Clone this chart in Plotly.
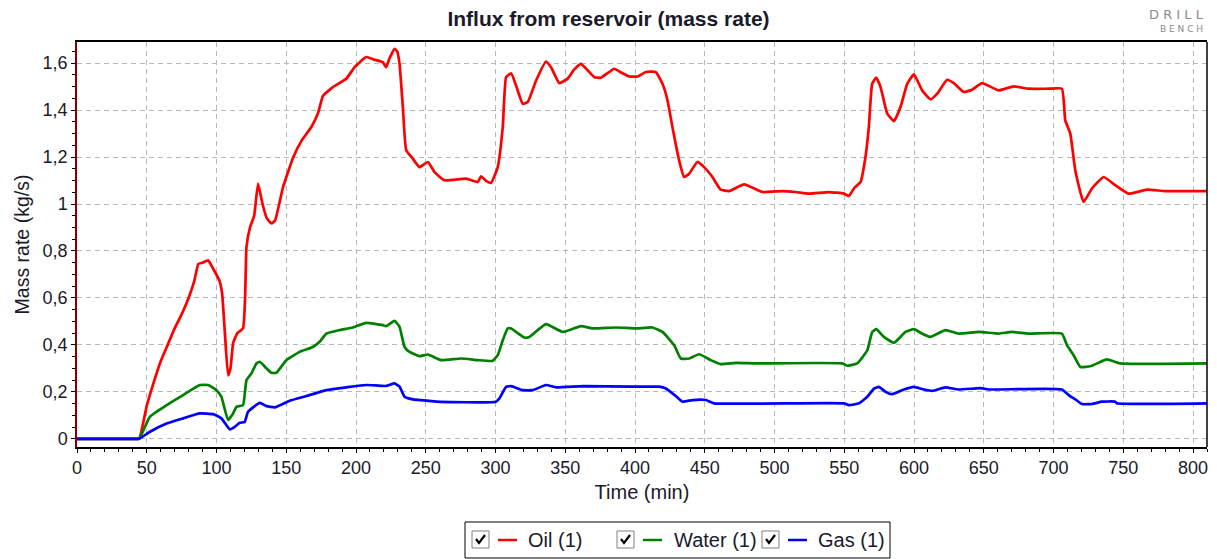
import plotly.graph_objects as go

# ---------------- data ----------------
oil_t = [0, 42, 44.6, 50, 55, 60, 65, 70, 75, 80, 84, 87, 90, 94, 98, 102, 104, 106, 108.3, 110, 112, 115, 119,
         120.5, 121.5, 124, 127, 129.8, 133, 136, 139.4, 142, 147.7, 155.1, 161, 168, 172.7, 176.3, 183.4,
         193, 199, 207.3, 213, 219.2, 221.6, 224, 227.6, 229.5, 231.2, 233.6, 236, 240.7, 245.5, 251.5,
         256.3, 263.4, 279, 287.3, 289.6, 293, 296.8, 301.6, 305.2, 307.6, 311.2, 315, 319.5, 323.1, 329.1,
         336.2, 340, 345.7, 351.7, 356, 361.2, 366, 371, 375.6, 385.1, 390, 395.8, 401.8, 407.8, 414.9,
         419.7, 423.3, 426.8, 431.6, 435.2, 438.8, 444.7, 449.5, 455.5, 461.4, 467.4, 478.2, 491.3, 505.6,
         515.2, 524.7, 539, 549.7, 553.3, 556.9, 561.7, 565.2, 567.6, 570, 572.9, 576, 580.8, 585.6, 590.3,
         595.1, 599.9, 605.8, 611.8, 616.6, 623.7, 628.5, 635.7, 641.6, 648.8, 660.7, 671.4, 682.2, 696.5,
         706, 708.4, 712, 715.6, 721.5, 727.5, 735.9, 744.3, 753.8, 766.9, 780, 810]
oil_v = [0, 0, 0, 0.14, 0.24, 0.33, 0.40, 0.47, 0.53, 0.60, 0.67, 0.745, 0.75, 0.76, 0.72, 0.675, 0.62, 0.45,
         0.27, 0.30, 0.41, 0.45, 0.47, 0.60, 0.817, 0.90, 0.95, 1.087, 1.00, 0.94, 0.917, 0.93, 1.072, 1.20,
         1.27, 1.328, 1.385, 1.46, 1.498, 1.533, 1.583, 1.626, 1.615, 1.604, 1.583, 1.62, 1.661, 1.65,
         1.597, 1.41, 1.229, 1.193, 1.157, 1.179, 1.136, 1.101, 1.108, 1.094, 1.118, 1.10, 1.09, 1.157,
         1.328, 1.54, 1.557, 1.50, 1.427, 1.434, 1.526, 1.607, 1.58, 1.515, 1.534, 1.57, 1.597, 1.57, 1.54,
         1.538, 1.576, 1.56, 1.543, 1.543, 1.562, 1.562, 1.512, 1.441, 1.328, 1.186, 1.115, 1.129, 1.179,
         1.157, 1.115, 1.061, 1.055, 1.084, 1.051, 1.055, 1.051, 1.044, 1.051, 1.044, 1.034, 1.066, 1.094,
         1.20, 1.328, 1.512, 1.538, 1.498, 1.385, 1.353, 1.413, 1.512, 1.552, 1.484, 1.446, 1.47, 1.529,
         1.515, 1.477, 1.487, 1.515, 1.484, 1.501, 1.491, 1.491, 1.491, 1.356, 1.30, 1.143, 1.009, 1.066,
         1.115, 1.08, 1.044, 1.061, 1.055, 1.055]

water_t = [0, 42, 44.6, 52.3, 64.2, 76.1, 88, 94, 100, 103.5, 108.3, 111.9, 114.3, 119, 121.5, 125, 128.6, 131,
           135.8, 139.4, 142.9, 150.1, 159.6, 169.1, 173.9, 178.7, 188.2, 197.7, 207.3, 219.2, 221.6, 227.6,
           231.2, 234.8, 238.4, 245.5, 251.5, 261, 275.3, 287.3, 298, 301.6, 305.2, 308.8, 311.2, 320.7,
           324.3, 336.2, 348.1, 361.2, 369.6, 386.3, 400.6, 412.5, 419.7, 428, 432.8, 438.8, 446, 454.3,
           461.4, 472.2, 486.5, 548.6, 552.1, 559.3, 566.5, 570, 572.9, 578.4, 585.6, 593.9, 599.9, 605.8,
           611.8, 622.5, 632, 646.4, 660.7, 670.2, 682.2, 706, 709.6, 714.4, 719.2, 727, 738.2, 747.8, 810]
water_v = [0, 0, 0, 0.094, 0.143, 0.186, 0.229, 0.229, 0.207, 0.179, 0.08, 0.108, 0.136, 0.143, 0.25, 0.278,
           0.321, 0.328, 0.30, 0.281, 0.281, 0.335, 0.37, 0.391, 0.413, 0.448, 0.463, 0.474, 0.494, 0.484,
           0.48, 0.502, 0.477, 0.391, 0.37, 0.352, 0.359, 0.335, 0.342, 0.335, 0.332, 0.356, 0.42, 0.47, 0.47,
           0.431, 0.434, 0.488, 0.455, 0.48, 0.47, 0.474, 0.47, 0.474, 0.455, 0.399, 0.342, 0.342, 0.36,
           0.335, 0.318, 0.323, 0.321, 0.321, 0.311, 0.321, 0.377, 0.455, 0.467, 0.434, 0.409, 0.455, 0.467,
           0.448, 0.434, 0.463, 0.448, 0.455, 0.448, 0.455, 0.448, 0.448, 0.399, 0.356, 0.306, 0.31, 0.338,
           0.321, 0.321]

gas_t = [0, 42, 44.6, 52.3, 64.2, 76.1, 88, 97.6, 103.5, 109.5, 113.1, 116.7, 120.2, 122.6, 131, 135.8, 141.8,
         152.5, 164.4, 178.7, 193, 207.3, 221.6, 227.6, 231.2, 234.8, 240.7, 245.5, 257.5, 300.2, 302.8,
         307.6, 311.2, 319.5, 326.6, 336.2, 343.4, 362.4, 398.2, 417.3, 422.1, 429.2, 434, 441.2, 450.7,
         456.7, 549.7, 553.3, 560.5, 566.5, 571.3, 574.9, 579.6, 584.4, 592.7, 599.9, 607.1, 613, 622.5, 632,
         647.6, 653.6, 706, 710.8, 715.6, 720.4, 727.5, 734.6, 744.2, 745.3, 810]
gas_v = [0, 0, 0, 0.03, 0.065, 0.087, 0.108, 0.105, 0.087, 0.04, 0.051, 0.068, 0.072, 0.115, 0.153, 0.139,
         0.134, 0.162, 0.182, 0.207, 0.219, 0.229, 0.225, 0.236, 0.222, 0.179, 0.168, 0.165, 0.158, 0.158,
         0.172, 0.221, 0.224, 0.207, 0.207, 0.229, 0.219, 0.224, 0.222, 0.222, 0.214, 0.182, 0.158, 0.165,
         0.165, 0.151, 0.151, 0.143, 0.151, 0.179, 0.214, 0.221, 0.20, 0.19, 0.21, 0.221, 0.21, 0.204, 0.219,
         0.21, 0.216, 0.21, 0.21, 0.186, 0.168, 0.148, 0.148, 0.158, 0.158, 0.151, 0.151]

series_names = ["Oil (1)", "Water (1)", "Gas (1)"]
series_colors = ["#ff0000", "#008000", "#0000ff"]

x_tickvals = [0, 50, 100, 150, 200, 250, 300, 350, 400, 450, 500, 550, 600, 650, 700, 750, 800]
y_tickvals = [0, 0.2, 0.4, 0.6, 0.8, 1.0, 1.2, 1.4, 1.6]
y_ticktext = ["0", "0,2", "0,4", "0,6", "0,8", "1", "1,2", "1,4", "1,6"]

title_text = "Influx from reservoir (mass rate)"
x_title = "Time (min)"
y_title = "Mass rate (kg/s)"
logo_lines = ["D R I L L", "B E N C H"]

# ---------------- figure ----------------
W, H = 1217, 559
ML, MR, MT, MB = 77, 10, 42, 112
PW, PH = W - ML - MR, H - MT - MB
FONT = "Liberation Sans, Arial, sans-serif"
TXT = "#1a1a2a"


def px(xp):
    return (xp - ML) / PW


def py(yp):
    return (H - MB - yp) / PH


fig = go.Figure()
for t, v, name, col in zip([oil_t, water_t, gas_t], [oil_v, water_v, gas_v], series_names, series_colors):
    fig.add_trace(go.Scatter(x=t, y=v, mode="lines", name=name,
                             line=dict(color=col, width=2.7, shape="spline", smoothing=0.4),
                             showlegend=False))

grid = dict(showgrid=True, gridcolor="#b8b8b8", griddash="5px,4px", gridwidth=1)

fig.update_xaxes(range=[0, 810], tickvals=x_tickvals, ticks="outside", ticklen=4, tickcolor="#000",
                 showline=True, linecolor="#000", linewidth=1.5, mirror=True, zeroline=False,
                 automargin=False,
                 minor=dict(dtick=10, ticks="outside", ticklen=3, tickcolor="#000", showgrid=False),
                 tickfont=dict(family=FONT, size=18, color=TXT),
                 title=dict(text=x_title, font=dict(family=FONT, size=20, color=TXT), standoff=8),
                 **grid)
fig.update_yaxes(range=[-0.035, 1.69], tickvals=y_tickvals, ticktext=y_ticktext, ticks="outside",
                 ticklen=4, tickcolor="#000", showline=True, linecolor="#800000", linewidth=1.5,
                 zeroline=False, automargin=False,
                 minor=dict(dtick=0.05, tick0=0, ticks="outside", ticklen=3, tickcolor="#000", showgrid=False),
                 tickfont=dict(family=FONT, size=18, color=TXT),
                 title=dict(text=y_title, font=dict(family=FONT, size=19.5, color=TXT), standoff=8),
                 **grid)

shapes = []
# right frame line (black)
shapes.append(dict(type="line", xref="paper", yref="paper", x0=1, x1=1, y0=0, y1=1,
                   line=dict(color="#000", width=1.5)))

# ---------- legend box (drawn like the reference) ----------
shapes.append(dict(type="rect", xref="paper", yref="paper", x0=px(465), x1=px(890), y0=py(558), y1=py(522),
                   line=dict(color="#000", width=1), fillcolor="#fff"))
annotations = []
items = [(472, 498, 517, 526), (617, 643, 662, 672), (762, 788, 807, 816)]
for (cb, l0, l1, tx), name, col in zip(items, series_names, series_colors):
    # checkbox
    shapes.append(dict(type="rect", xref="paper", yref="paper", x0=px(cb), x1=px(cb + 17),
                       y0=py(548), y1=py(531), line=dict(color="#808080", width=1), fillcolor="#fff"))
    shapes.append(dict(type="path", xref="paper", yref="paper",
                       path=f"M {px(cb+4)},{py(539)} L {px(cb+7)},{py(543)} L {px(cb+13)},{py(535)}",
                       line=dict(color="#000", width=2.2)))
    # line sample
    shapes.append(dict(type="line", xref="paper", yref="paper", x0=px(l0), x1=px(l1), y0=py(540), y1=py(540),
                       line=dict(color=col, width=2.5)))
    annotations.append(dict(text=name, xref="paper", yref="paper", x=px(tx), y=py(540), xanchor="left",
                            yanchor="middle", showarrow=False,
                            font=dict(family=FONT, size=20, color=TXT)))

# ---------- DRILL BENCH logo ----------
annotations.append(dict(text=logo_lines[0], xref="paper", yref="paper", x=px(1206), y=py(14), xanchor="right",
                        yanchor="middle", showarrow=False,
                        font=dict(family="DejaVu Sans, sans-serif", size=13, color="#8c8c8c")))
annotations.append(dict(text=logo_lines[1], xref="paper", yref="paper", x=px(1205), y=py(29), xanchor="right",
                        yanchor="middle", showarrow=False,
                        font=dict(family="DejaVu Sans, sans-serif", size=9, color="#8a8a8a")))

fig.update_layout(
    width=W, height=H, autosize=False,
    margin=dict(l=ML, r=MR, t=MT, b=MB, pad=0, autoexpand=False),
    paper_bgcolor="#fff", plot_bgcolor="#fff",
    title=dict(text=f"<b>{title_text}</b>", x=0.5, xref="container", xanchor="center", y=1 - 19 / H,
               yanchor="middle", font=dict(family=FONT, size=21, color=TXT)),
    shapes=shapes, annotations=annotations, showlegend=False,
)

fig.write_html("out.html", config={"displayModeBar": False},
               post_script="document.body.style.margin='0';document.body.style.overflow='hidden';")
